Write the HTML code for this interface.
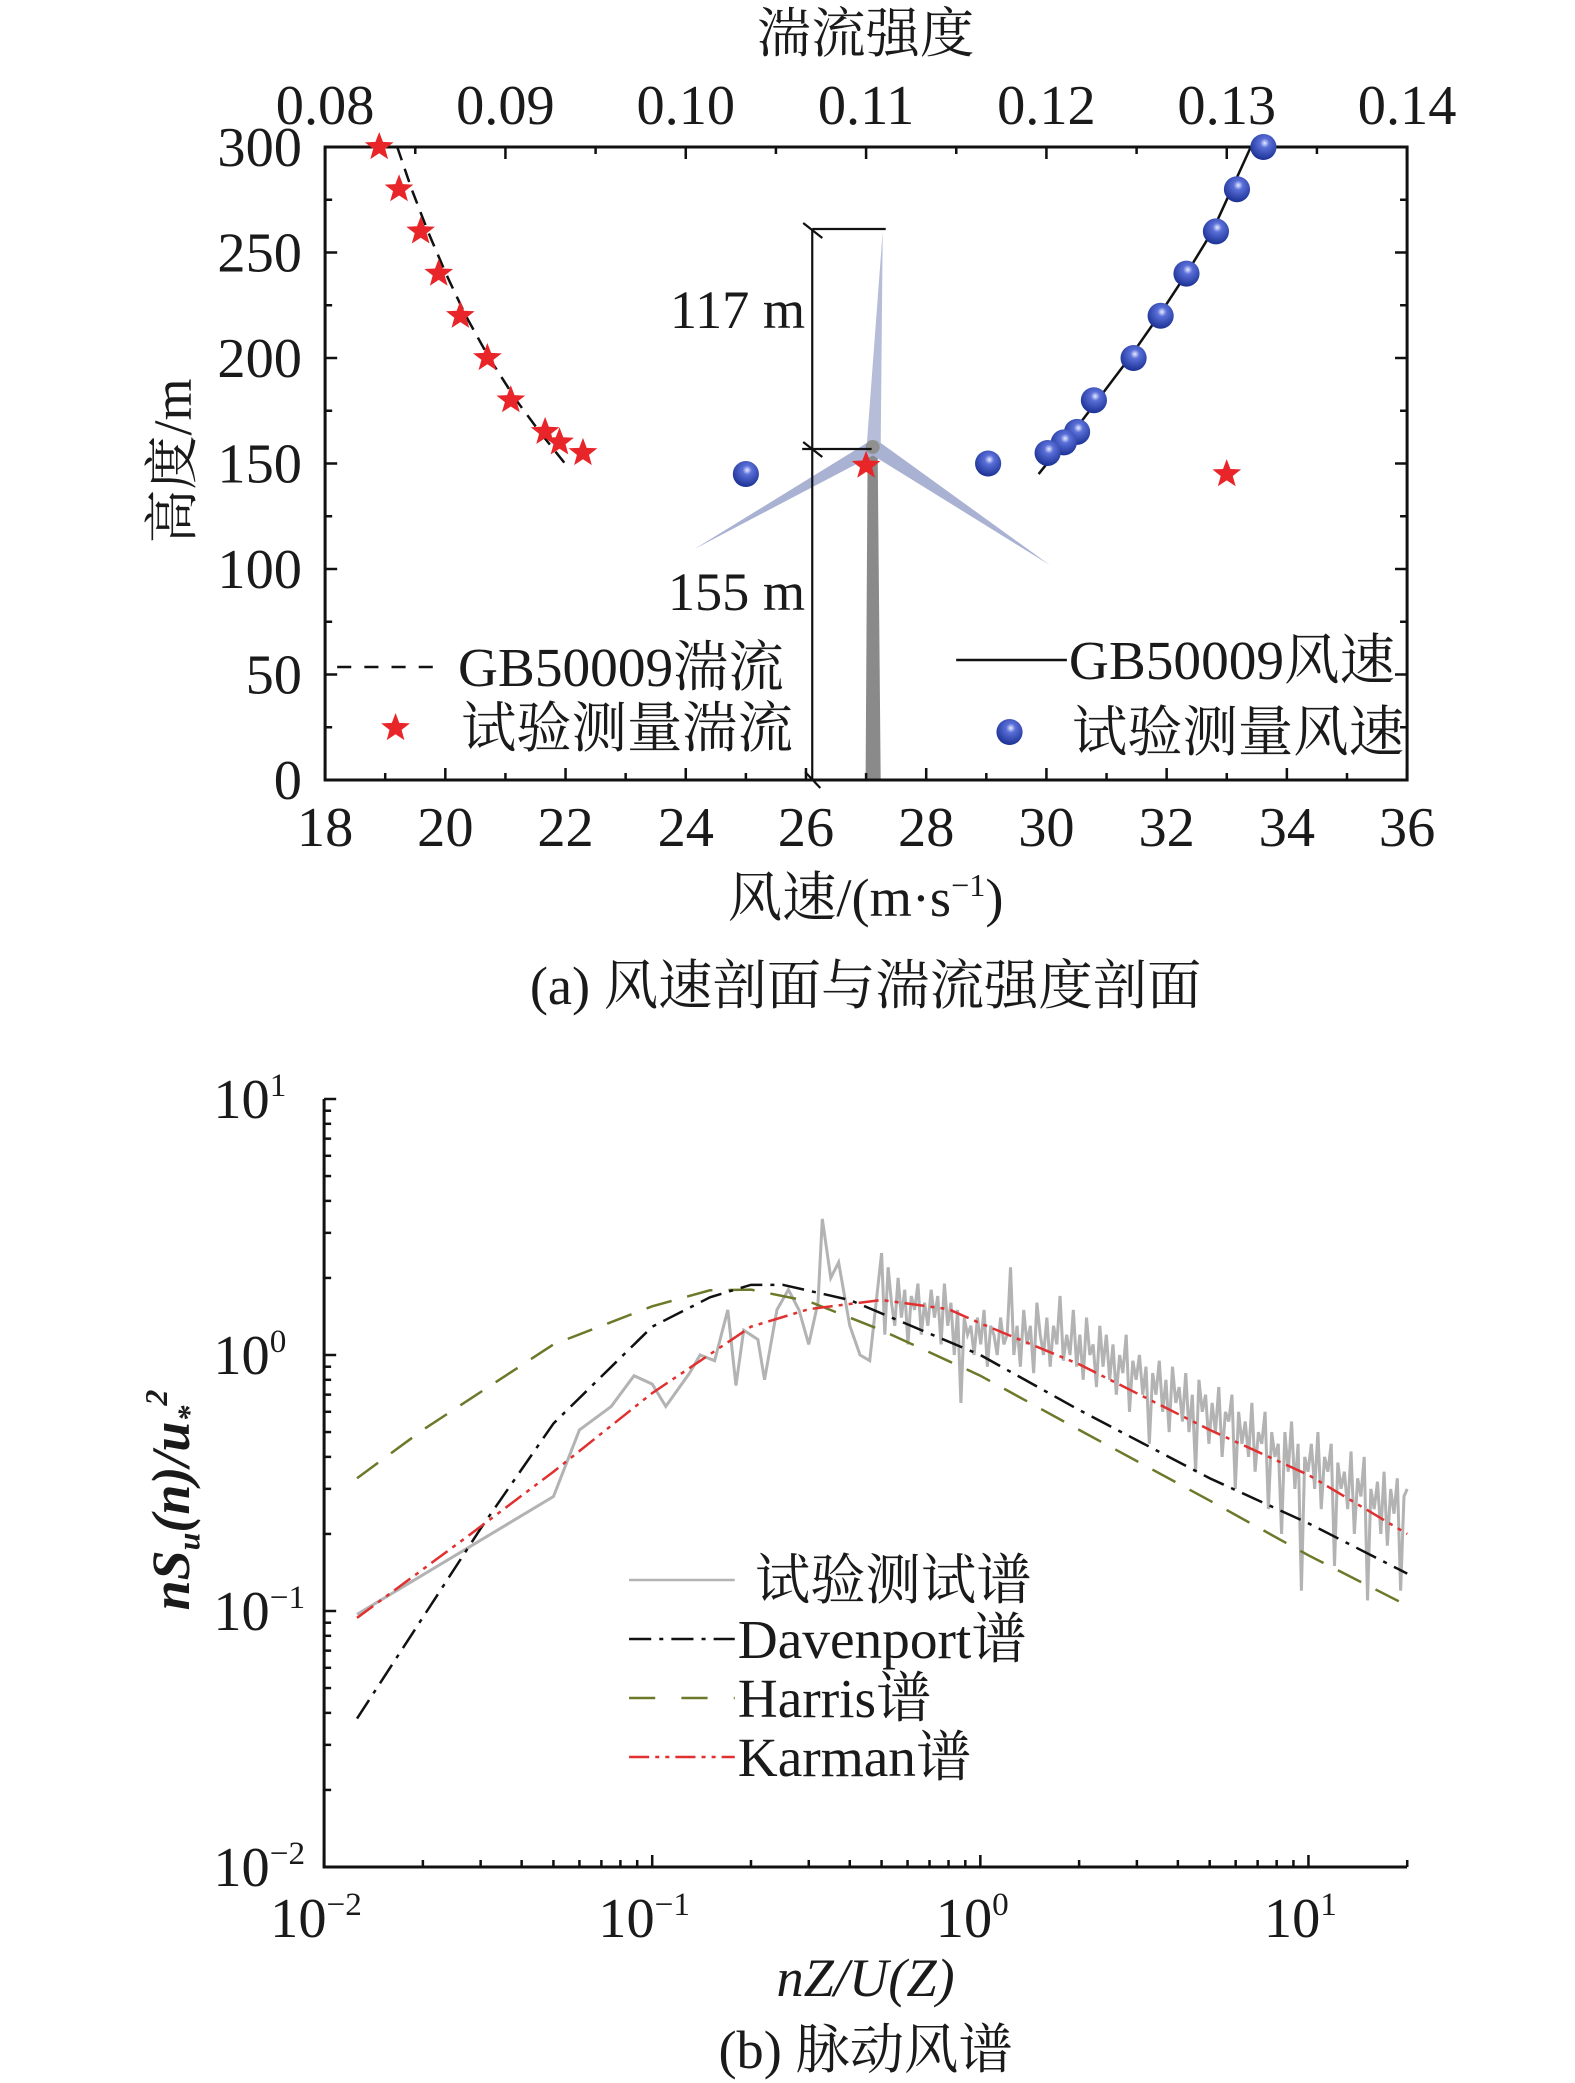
<!DOCTYPE html>
<html><head><meta charset="utf-8"><style>
html,body{margin:0;padding:0;background:#fff;}
svg{display:block;}
text{font-family:"Liberation Serif","Noto Serif CJK SC","Noto Sans CJK SC",serif;fill:#1a1a1a;}
</style></head><body>
<svg id="fig" width="1575" height="2083" viewBox="0 0 1575 2083" xmlns="http://www.w3.org/2000/svg">
<defs>
<radialGradient id="sph" cx="0.55" cy="0.35" r="0.7">
<stop offset="0" stop-color="#e8ecff"/><stop offset="0.25" stop-color="#5a6fd8"/><stop offset="1" stop-color="#142a8c"/>
</radialGradient>
</defs>
<g id="pa" transform="scale(1.0065,1)"></g>
<g id="pb" transform="scale(1.0065,1)"></g>
</svg>
<script>
// ---------- Panel (a) data ----------
const starHeights = [300,280,260,240,220,200,180,165,160,155];
const starTurb = [0.0830,0.0841,0.0853,0.0863,0.0875,0.0890,0.0903,0.0922,0.0930,0.0943];
const gbTurbHeights = [300,280,260,240,220,200,180,165,150];
const gbTurbValues = [0.0840,0.0848,0.0857,0.0867,0.0878,0.0891,0.0906,0.0919,0.0933];
const ballHeights = [300,280,260,240,220,200,180,165,160,155];
const ballSpeeds = [33.61,33.17,32.82,32.33,31.90,31.45,30.79,30.51,30.29,30.02];
const gbSpeedHeights = [145,155,165,180,200,220,240,260,280,300];
const gbSpeedValues = [29.87,30.15,30.45,30.85,31.38,31.87,32.33,32.76,33.08,33.40];
const extraBalls = [[25.0,145],[29.03,150]];
const extraStars = [[0.1300,145],[0.1100,149]];
const bottomTicks = [18,20,22,24,26,28,30,32,34,36];
const topTicks = [0.08,0.09,0.10,0.11,0.12,0.13,0.14];
const leftTicks = [0,50,100,150,200,250,300];

// ---------- Panel (b) data ----------
const davF = [0.0126,0.03,0.05,0.1,0.15,0.2,0.25,0.4,1,2,5,10,20];
const davV = [0.038,0.21,0.54,1.29,1.68,1.88,1.88,1.64,1.0,0.61,0.33,0.22,0.14];
const harF = [0.0126,0.02,0.05,0.1,0.15,0.2,0.3,0.5,1,2,5,10,20];
const harV = [0.33,0.51,1.10,1.55,1.79,1.80,1.62,1.25,0.83,0.51,0.27,0.165,0.105];
const karF = [0.0126,0.028,0.05,0.1,0.2,0.3,0.5,0.8,1,2,5,10,20];
const karV = [0.094,0.20,0.35,0.71,1.29,1.51,1.64,1.51,1.33,0.92,0.51,0.34,0.20];
const measLowF = [0.0126,0.05,0.06,0.075,0.088,0.1,0.11,0.13,0.14,0.155,0.17,0.18,0.19,0.21,0.22,0.24,0.26,0.28,0.3,0.32,0.33,0.35,0.37,0.4,0.43,0.46];
const measLowV = [0.097,0.28,0.51,0.63,0.83,0.77,0.63,0.85,1.0,0.95,1.5,0.76,1.25,1.15,0.8,1.5,1.8,1.5,1.1,1.6,3.4,2.0,2.3,1.3,1.0,0.95];
const measHighV = [2.5,1.2,2.2,1.6,1.3,2.0,1.4,1.8,1.1,1.7,
1.5,1.9,1.2,1.6,1.3,1.8,1.4,1.7,1.1,1.9,
1.3,1.6,1.0,1.5,0.65,1.4,1.2,1.3,1.0,1.4,
1.1,1.5,0.9,1.3,1.2,1.0,1.4,1.1,1.2,2.2,
1.0,1.3,0.9,1.5,1.1,1.3,0.85,1.6,1.2,1.0,
1.4,0.9,1.3,1.1,1.7,0.95,1.2,1.0,1.5,0.9,
1.2,0.8,1.4,1.0,1.1,0.75,1.3,0.9,1.2,0.8,
1.1,0.7,1.0,0.85,1.2,0.6,0.95,0.8,1.0,0.7,
0.9,0.45,0.85,0.7,0.95,0.6,0.8,0.5,0.9,0.65,
0.75,0.55,0.85,0.5,0.7,0.35,0.8,0.6,0.7,0.45,
0.65,0.5,0.75,0.4,0.6,0.55,0.7,0.3,0.6,0.45,
0.55,0.4,0.65,0.35,0.5,0.45,0.6,0.25,0.5,0.4,
0.45,0.2,0.5,0.35,0.55,0.3,0.45,0.12,0.4,0.35,
0.45,0.3,0.5,0.25,0.4,0.35,0.45,0.15,0.38,0.3,
0.35,0.25,0.42,0.2,0.33,0.28,0.4,0.11,0.3,0.25,
0.32,0.2,0.35,0.18,0.3,0.24,0.33,0.12,0.28,0.3];
const measHighStart = 0.5, measHighEnd = 20;

const NS='http://www.w3.org/2000/svg';
function mk(parent,tag,attrs,txt){const e=document.createElementNS(NS,tag);for(const k in attrs)e.setAttribute(k,attrs[k]);if(txt!==undefined)e.textContent=txt;parent.appendChild(e);return e;}

// ===== Panel A =====
const pa=document.getElementById('pa');
const AX0=323,AX1=1398,AY0=147,AY1=780;
const xs=v=>AX0+(v-18)*(AX1-AX0)/18;
const xt=t=>AX0+(t-0.08)*(AX1-AX0)/0.06;
const ya=h=>AY1-h*(AY1-AY0)/300;

let e;
e=mk(pa,'text',{x:860,y:52,'font-size':54,'text-anchor':'middle'},'湍流强度');



// turbine
const tb=mk(pa,'g',{});


mk(tb,'polygon',{points:'860,780 875,780 872,452 862,452',fill:'#8a8a8a'});
mk(tb,'polygon',{points:'861,447 877,231 875,447',fill:'#b6bdd8'});
mk(tb,'polygon',{points:'866,440 690,549 868,455',fill:'#a9b2d2'});
mk(tb,'polygon',{points:'865,454 1043,565 871,440',fill:'#a9b2d2'});
mk(tb,'circle',{cx:867,cy:447,r:7,fill:'#909090'});

// dimension lines
const dm=mk(pa,'g',{stroke:'#111','stroke-width':2.2,fill:'none'});


mk(dm,'line',{x1:807,y1:229,x2:807,y2:780});
mk(dm,'line',{x1:807,y1:229,x2:880,y2:229});
mk(dm,'line',{x1:797,y1:449,x2:866,y2:449});
mk(dm,'line',{x1:798,y1:223,x2:817,y2:238});
mk(dm,'line',{x1:798,y1:442,x2:817,y2:457});
mk(dm,'line',{x1:800,y1:772,x2:815,y2:788});
e=mk(pa,'text',{x:800,y:328,'font-size':54,'text-anchor':'end'},'117 m');


e=mk(pa,'text',{x:800,y:610,'font-size':54,'text-anchor':'end'},'155 m');



// axes box
e=mk(pa,'rect',{x:AX0,y:AY0,width:AX1-AX0,height:AY1-AY0,fill:'none',stroke:'#111','stroke-width':3});


const tk=mk(pa,'g',{stroke:'#111','stroke-width':2.5});
for(let v=18;v<=36;v+=1){const x=xs(v);const L=(v%2===0)?12:7;mk(tk,'line',{x1:x,y1:AY1,x2:x,y2:AY1-L});}
for(let i=0;i<=12;i++){const t=0.08+i*0.005;const x=xt(t);const L=(i%2===0)?12:7;mk(tk,'line',{x1:x,y1:AY0,x2:x,y2:AY0+L});}
for(let h=0;h<=300;h+=25){const y=ya(h);const L=(h%50===0)?12:7;mk(tk,'line',{x1:AX0,y1:y,x2:AX0+L,y2:y});mk(tk,'line',{x1:AX1,y1:y,x2:AX1-L,y2:y});}
bottomTicks.forEach(v=>{const t=mk(pa,'text',{x:xs(v),y:846,'font-size':56,'text-anchor':'middle'},String(v));

});
topTicks.forEach(v=>{const t=mk(pa,'text',{x:xt(v),y:124,'font-size':56,'text-anchor':'middle'},v.toFixed(2));

});
leftTicks.forEach(v=>{const t=mk(pa,'text',{x:300,y:ya(v)+19,'font-size':56,'text-anchor':'end'},String(v));

});
e=mk(pa,'text',{x:860,y:916,'font-size':54,'text-anchor':'middle'});


e.innerHTML='风速/(m·s<tspan dy="-20" font-size="32">−1</tspan><tspan dy="20">)</tspan>';
e=mk(pa,'text',{x:0,y:0,'font-size':54,'text-anchor':'middle',transform:'translate(190,461) rotate(-90)'},'高度/m');


e=mk(pa,'text',{x:860,y:1004,'font-size':54,'text-anchor':'middle'},'(a) 风速剖面与湍流强度剖面');



// GB lines
e=mk(pa,'polyline',{points:gbTurbHeights.map((h,i)=>xt(gbTurbValues[i])+','+ya(h)).join(' '),fill:'none',stroke:'#111','stroke-width':2.5,'stroke-dasharray':'14,9'});


e=mk(pa,'polyline',{points:gbSpeedHeights.map((h,i)=>xs(gbSpeedValues[i])+','+ya(h)).join(' '),fill:'none',stroke:'#111','stroke-width':2.5});



function star(parent,cx,cy,R){const pts=[];for(let i=0;i<10;i++){const r=i%2?R*0.42:R;const a=-Math.PI/2+i*Math.PI/5;pts.push((cx+r*Math.cos(a)).toFixed(1)+','+(cy+r*Math.sin(a)).toFixed(1));}
return mk(parent,'polygon',{points:pts.join(' '),fill:'#e8262a'});}
function ball(parent,cx,cy){return mk(parent,'ellipse',{cx:cx,cy:cy,rx:13,ry:13,fill:'url(#sph)'});}

starHeights.forEach((h,i)=>{const s=star(pa,xt(starTurb[i]),ya(h),15);

});
extraStars.forEach(p=>{const s=star(pa,xt(p[0]),ya(p[1]),15);

});
ballHeights.forEach((h,i)=>{const b=ball(pa,xs(ballSpeeds[i]),ya(h));

});
extraBalls.forEach(p=>{const b=ball(pa,xs(p[0]),ya(p[1]));

});

// legend a
const la=mk(pa,'g',{});


mk(la,'line',{x1:335,y1:667,x2:440,y2:667,stroke:'#111','stroke-width':2.5,'stroke-dasharray':'14,13'});
mk(la,'text',{x:455,y:686,'font-size':55},'GB50009湍流');
star(la,393,728,15);
mk(la,'text',{x:458,y:747,'font-size':55},'试验测量湍流');
mk(la,'line',{x1:950,y1:660,x2:1060,y2:660,stroke:'#111','stroke-width':2.5});
mk(la,'text',{x:1062,y:679,'font-size':55},'GB50009风速');
ball(la,1003,732);
mk(la,'text',{x:1065,y:751,'font-size':55},'试验测量风速');

// ===== Panel B =====
const pb=document.getElementById('pb');
const BX0=322,BX1=1398,BY0=1099,BY1=1867;
const xb=f=>BX0+(Math.log10(f)+2)*326;
const yb=v=>BY1-(Math.log10(v)+2)*256;
e=mk(pb,'polyline',{points:BX0+','+BY0+' '+BX0+','+BY1+' '+BX1+','+BY1,fill:'none',stroke:'#111','stroke-width':3});


const tkb=mk(pb,'g',{stroke:'#111','stroke-width':2.5});
for(let d=-2;d<=1;d++){for(let m=1;m<=9;m++){const f=m*Math.pow(10,d);if(f>20.01)break;const x=xb(f);const L=m===1?12:7;mk(tkb,'line',{x1:x,y1:BY1,x2:x,y2:BY1-L});}}
for(let d=-2;d<=1;d++){for(let m=1;m<=9;m++){const v=m*Math.pow(10,d);if(v>10.01)break;const y=yb(v);const L=m===1?12:7;mk(tkb,'line',{x1:BX0,y1:y,x2:BX0+L,y2:y});}}
const decExp=['−2','−1','0','1'];
decExp.forEach((s,i)=>{const t=mk(pb,'text',{x:xb(Math.pow(10,i-2))-8,y:1937,'font-size':56,'text-anchor':'middle'});


t.innerHTML='10<tspan dy="-22" font-size="33">'+s+'</tspan>';});
decExp.forEach((s,i)=>{const t=mk(pb,'text',{x:212,y:yb(Math.pow(10,i-2))+19,'font-size':56});


t.innerHTML='10<tspan dy="-22" font-size="33">'+s+'</tspan>';});
e=mk(pb,'text',{x:860,y:1996,'font-size':54,'text-anchor':'middle','font-style':'italic'},'nZ/U(Z)');


e=mk(pb,'text',{x:0,y:0,'font-size':54,'text-anchor':'middle','font-style':'italic','font-weight':'bold',transform:'translate(188,1500) rotate(-90)'});


e.innerHTML='nS<tspan dy="10" font-size="32">u</tspan><tspan dy="-10">(n)/u</tspan><tspan dy="10" font-size="32">*</tspan><tspan dy="-32" font-size="32">2</tspan>';
e=mk(pb,'text',{x:860,y:2068,'font-size':54,'text-anchor':'middle'},'(b) 脉动风谱');



// measured
const measPts=measLowF.map((f,i)=>xb(f).toFixed(1)+','+yb(measLowV[i]).toFixed(1));
const nH=measHighV.length;
measHighV.forEach((v,i)=>{const f=measHighStart*Math.pow(measHighEnd/measHighStart,i/(nH-1));measPts.push(xb(f).toFixed(1)+','+yb(v).toFixed(1));});
e=mk(pb,'polyline',{points:measPts.join(' '),fill:'none',stroke:'#b3b3b3','stroke-width':3});


e=mk(pb,'polyline',{points:harF.map((f,i)=>xb(f)+','+yb(harV[i])).join(' '),fill:'none',stroke:'#6b7a2a','stroke-width':2.5,'stroke-dasharray':'26,16'});


e=mk(pb,'polyline',{points:davF.map((f,i)=>xb(f)+','+yb(davV[i])).join(' '),fill:'none',stroke:'#111','stroke-width':2.5,'stroke-dasharray':'22,8,4,8'});


e=mk(pb,'polyline',{points:karF.map((f,i)=>xb(f)+','+yb(karV[i])).join(' '),fill:'none',stroke:'#e03030','stroke-width':2.5,'stroke-dasharray':'20,6,4,6,4,6'});



// legend b
const lb=mk(pb,'g',{});


mk(lb,'line',{x1:625,y1:1580,x2:730,y2:1580,stroke:'#b3b3b3','stroke-width':2.5});
mk(lb,'text',{x:750,y:1599,'font-size':55},'试验测试谱');
mk(lb,'line',{x1:625,y1:1639,x2:730,y2:1639,stroke:'#111','stroke-width':2.5,'stroke-dasharray':'22,8,4,8'});
mk(lb,'text',{x:733,y:1658,'font-size':55},'Davenport谱');
mk(lb,'line',{x1:625,y1:1698,x2:730,y2:1698,stroke:'#6b7a2a','stroke-width':2.5,'stroke-dasharray':'26,26'});
mk(lb,'text',{x:733,y:1717,'font-size':55},'Harris谱');
mk(lb,'line',{x1:625,y1:1757,x2:730,y2:1757,stroke:'#e03030','stroke-width':2.5,'stroke-dasharray':'20,6,4,6,4,6'});
mk(lb,'text',{x:733,y:1776,'font-size':55},'Karman谱');
</script>
</body></html>
